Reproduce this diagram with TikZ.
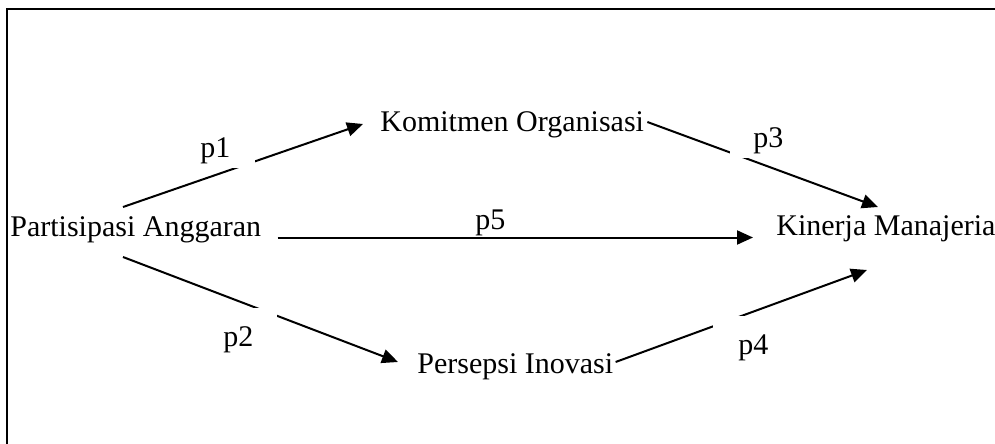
\documentclass[tikz,border=0pt]{standalone}
\usepackage{fontspec}
\setmainfont{Liberation Serif}
\usetikzlibrary{arrows.meta}
\begin{document}
\begin{tikzpicture}[x=0.5pt,y=-0.5pt,
  txt/.style={inner sep=0pt, anchor=base west, font=\fontsize{15pt}{18pt}\selectfont},
  conn/.style={line width=1pt, -{Triangle[length=8pt,width=7pt]}},
  gapbox/.style={fill=white, draw=none},
  frame/.style={line width=1.4pt}]
\useasboundingbox (0,0) rectangle (995,444);
\begin{scope}
  \clip (0,0) rectangle (995,444);
  \draw[frame] (7,9) rectangle (1020,470);
\end{scope}
% main nodes
\node[txt] (pa) at (10,236) {Partisipasi Anggaran};
\node[txt] (ko) at (380,132) {Komitmen Organisasi};
\node[txt] (km) at (776,235) {Kinerja Manajeria};
\node[txt] (pi) at (417,373) {Persepsi Inovasi};
% connectors
\draw[conn] ([shift={(113,-29)}]pa.base west) -- ([shift={(-17,-8)}]ko.base west);
\draw[conn] ([shift={(3,-10)}]ko.base east) -- ([shift={(102,-28)}]km.base west);
\draw[conn] ([shift={(16,1.5)}]pa.base east) -- ([shift={(-23,2.5)}]km.base west);
\draw[conn] ([shift={(113,21)}]pa.base west) -- ([shift={(-19,-11)}]pi.base west);
\draw[conn] ([shift={(2,-11)}]pi.base east) -- ([shift={(91,35)}]km.base west);
% white label boxes
\fill[gapbox] (190,128) rectangle (255,168);
\fill[gapbox] (730,120) rectangle (790,158);
\fill[gapbox] (453,205) rectangle (529,236.6);
\fill[gapbox] (205,308) rectangle (277,352);
\fill[gapbox] (713,316) rectangle (780,365);
% labels
\node[txt] (l1) at (200,157) {p1};
\node[txt] (l3) at (753,148) {p3};
\node[txt] (l5) at (475,229) {p5};
\node[txt] (l2) at (223,346) {p2};
\node[txt] (l4) at (738,354) {p4};
\end{tikzpicture}
\end{document}
